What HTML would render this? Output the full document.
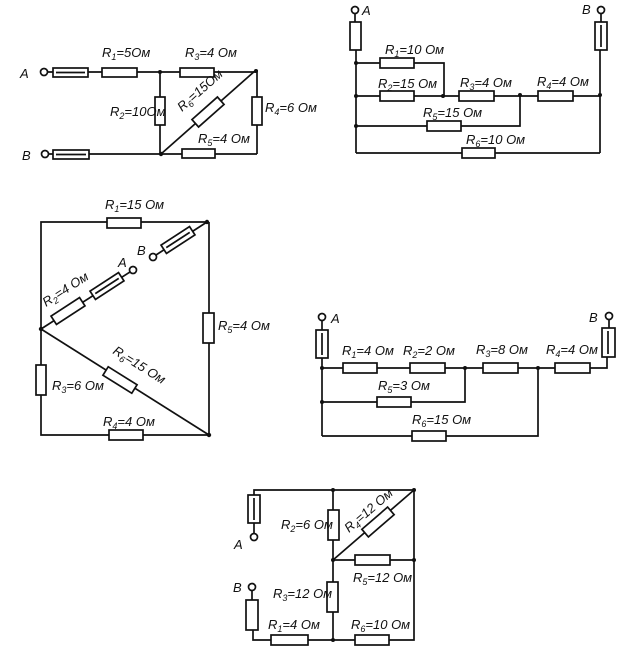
<!DOCTYPE html>
<html><head><meta charset="utf-8"><style>
html,body{margin:0;padding:0;background:#fff}
svg{display:block}
text{font-family:"Liberation Sans",sans-serif;font-style:italic;font-size:13px;fill:#111}
.s{font-size:9px}
</style></head><body>
<svg width="634" height="672" viewBox="0 0 634 672" xmlns="http://www.w3.org/2000/svg">
<g stroke="#111" stroke-width="1.7" fill="none">
<!-- Diagram 1 -->
<line x1="48" y1="72" x2="256" y2="72"/>
<line x1="48" y1="154" x2="257" y2="154"/>
<line x1="160" y1="72" x2="160" y2="154"/>
<line x1="257" y1="70" x2="257" y2="154"/>
<line x1="161" y1="154" x2="256" y2="70"/>
<circle cx="44" cy="72" r="3.5" fill="#fff"/>
<circle cx="45" cy="154" r="3.5" fill="#fff"/>
<rect x="53" y="68" width="35" height="9" fill="#fff"/><line x1="56" y1="72.5" x2="85" y2="72.5"/>
<rect x="102" y="68" width="35" height="9" fill="#fff"/>
<rect x="180" y="68" width="34" height="9" fill="#fff"/>
<rect x="53" y="150" width="36" height="9" fill="#fff"/><line x1="56" y1="154.5" x2="86" y2="154.5"/>
<rect x="182" y="149" width="33" height="9" fill="#fff"/>
<rect x="155" y="97" width="10" height="28" fill="#fff"/>
<rect x="252" y="97" width="10" height="28" fill="#fff"/>
<rect x="191" y="107" width="34" height="10" fill="#fff" transform="rotate(-41.5 208 112)"/>
<!-- Diagram 2 -->
<line x1="355" y1="14" x2="355" y2="22"/>
<line x1="601" y1="14" x2="601" y2="22"/>
<line x1="356" y1="50" x2="356" y2="153"/>
<line x1="600" y1="50" x2="600" y2="153"/>
<polyline points="356,63 444,63 444,96"/>
<line x1="356" y1="96" x2="600" y2="96"/>
<polyline points="356,126 520,126 520,95"/>
<line x1="356" y1="153" x2="600" y2="153"/>
<circle cx="355" cy="10" r="3.5" fill="#fff"/>
<circle cx="601" cy="10" r="3.5" fill="#fff"/>
<rect x="350" y="22" width="11" height="28" fill="#fff"/>
<rect x="595" y="22" width="12" height="28" fill="#fff"/><line x1="601" y1="25" x2="601" y2="47"/>
<rect x="380" y="58" width="34" height="10" fill="#fff"/>
<rect x="380" y="91" width="34" height="10" fill="#fff"/>
<rect x="459" y="91" width="35" height="10" fill="#fff"/>
<rect x="538" y="91" width="35" height="10" fill="#fff"/>
<rect x="427" y="121" width="34" height="10" fill="#fff"/>
<rect x="462" y="148" width="33" height="10" fill="#fff"/>
<!-- Diagram 3 -->
<polyline points="207,222 41,222 41,435 209,435 209,222"/>
<line x1="41" y1="329" x2="209" y2="435"/>
<line x1="207" y1="222" x2="156" y2="255"/>
<line x1="41" y1="329" x2="130" y2="272"/>
<circle cx="153" cy="257" r="3.5" fill="#fff"/>
<circle cx="133" cy="270" r="3.5" fill="#fff"/>
<rect x="107" y="218" width="34" height="10" fill="#fff"/>
<rect x="109" y="430" width="34" height="10" fill="#fff"/>
<rect x="36" y="365" width="10" height="30" fill="#fff"/>
<rect x="203" y="313" width="11" height="30" fill="#fff"/>
<rect x="161" y="235" width="34" height="10" fill="#fff" transform="rotate(-33 178 240)"/>
<line x1="164" y1="240" x2="192" y2="240" transform="rotate(-33 178 240)"/>
<rect x="51" y="306" width="34" height="10" fill="#fff" transform="rotate(-33 68 311)"/>
<rect x="90" y="281" width="34" height="10" fill="#fff" transform="rotate(-33 107 286)"/>
<line x1="93" y1="286" x2="121" y2="286" transform="rotate(-33 107 286)"/>
<rect x="103" y="375" width="34" height="10" fill="#fff" transform="rotate(32 120 380)"/>
<!-- Diagram 4 -->
<line x1="322" y1="321" x2="322" y2="330"/>
<line x1="322" y1="358" x2="322" y2="436"/>
<polyline points="322,368 607,368 607,357"/>
<line x1="609" y1="320" x2="609" y2="328"/>
<polyline points="322,402 465,402 465,368"/>
<polyline points="322,436 538,436 538,368"/>
<circle cx="322" cy="317" r="3.5" fill="#fff"/>
<circle cx="609" cy="316" r="3.5" fill="#fff"/>
<rect x="316" y="330" width="12" height="28" fill="#fff"/><line x1="322" y1="333" x2="322" y2="355"/>
<rect x="602" y="328" width="13" height="29" fill="#fff"/><line x1="608" y1="331" x2="608" y2="354"/>
<rect x="343" y="363" width="34" height="10" fill="#fff"/>
<rect x="410" y="363" width="35" height="10" fill="#fff"/>
<rect x="483" y="363" width="35" height="10" fill="#fff"/>
<rect x="555" y="363" width="35" height="10" fill="#fff"/>
<rect x="377" y="397" width="34" height="10" fill="#fff"/>
<rect x="412" y="431" width="34" height="10" fill="#fff"/>
<!-- Diagram 5 -->
<polyline points="254,495 254,490 414,490 414,640 253,640 253,630"/>
<line x1="333" y1="490" x2="333" y2="640"/>
<line x1="333" y1="560" x2="414" y2="560"/>
<line x1="333" y1="560" x2="414" y2="490"/>
<line x1="254" y1="523" x2="254" y2="533"/>
<line x1="252" y1="591" x2="252" y2="600"/>
<circle cx="254" cy="537" r="3.5" fill="#fff"/>
<circle cx="252" cy="587" r="3.5" fill="#fff"/>
<rect x="248" y="495" width="12" height="28" fill="#fff"/><line x1="254" y1="498" x2="254" y2="520"/>
<rect x="246" y="600" width="12" height="30" fill="#fff"/>
<rect x="328" y="510" width="11" height="30" fill="#fff"/>
<rect x="327" y="582" width="11" height="30" fill="#fff"/>
<rect x="355" y="555" width="35" height="10" fill="#fff"/>
<rect x="271" y="635" width="37" height="10" fill="#fff"/>
<rect x="355" y="635" width="34" height="10" fill="#fff"/>
<rect x="361" y="517" width="34" height="10" fill="#fff" transform="rotate(-40.8 378 522)"/>
</g>
<g fill="#111">
<circle cx="160" cy="72" r="2"/><circle cx="256" cy="71" r="2"/><circle cx="161" cy="154" r="2.2"/>
<circle cx="356" cy="63" r="2"/><circle cx="356" cy="96" r="2"/><circle cx="356" cy="126" r="2"/><circle cx="443" cy="96" r="2"/><circle cx="520" cy="95" r="2"/><circle cx="600" cy="95" r="2"/>
<circle cx="207" cy="222" r="2.2"/><circle cx="41" cy="329" r="2.2"/><circle cx="209" cy="435" r="2.2"/>
<circle cx="322" cy="368" r="2"/><circle cx="322" cy="402" r="2"/><circle cx="465" cy="368" r="2"/><circle cx="538" cy="368" r="2"/>
<circle cx="333" cy="490" r="2"/><circle cx="414" cy="490" r="2"/><circle cx="333" cy="560" r="2"/><circle cx="414" cy="560" r="2"/><circle cx="333" cy="640" r="2"/>
</g>
<!-- Labels D1 -->
<text x="20" y="78">A</text><text x="22" y="160">B</text>
<text x="102" y="57">R<tspan class="s" dy="3">1</tspan><tspan dy="-3">=5Ом</tspan></text>
<text x="185" y="57">R<tspan class="s" dy="3">3</tspan><tspan dy="-3">=4 Ом</tspan></text>
<text x="110" y="116">R<tspan class="s" dy="3">2</tspan><tspan dy="-3">=10Ом</tspan></text>
<text x="265" y="112">R<tspan class="s" dy="3">4</tspan><tspan dy="-3">=6 Ом</tspan></text>
<text x="198" y="143">R<tspan class="s" dy="3">5</tspan><tspan dy="-3">=4 Ом</tspan></text>
<text x="0" y="0" transform="translate(182 112) rotate(-41.5)">R<tspan class="s" dy="3">6</tspan><tspan dy="-3">=15Ом</tspan></text>
<!-- D2 -->
<text x="362" y="15">A</text><text x="582" y="14">B</text>
<text x="385" y="54">R<tspan class="s" dy="3">1</tspan><tspan dy="-3">=10 Ом</tspan></text>
<text x="378" y="88">R<tspan class="s" dy="3">2</tspan><tspan dy="-3">=15 Ом</tspan></text>
<text x="460" y="87">R<tspan class="s" dy="3">3</tspan><tspan dy="-3">=4 Ом</tspan></text>
<text x="537" y="86">R<tspan class="s" dy="3">4</tspan><tspan dy="-3">=4 Ом</tspan></text>
<text x="423" y="117">R<tspan class="s" dy="3">5</tspan><tspan dy="-3">=15 Ом</tspan></text>
<text x="466" y="144">R<tspan class="s" dy="3">6</tspan><tspan dy="-3">=10 Ом</tspan></text>
<!-- D3 -->
<text x="105" y="209">R<tspan class="s" dy="3">1</tspan><tspan dy="-3">=15 Ом</tspan></text>
<text x="137" y="255">B</text><text x="118" y="267">A</text>
<text x="0" y="0" transform="translate(46 307) rotate(-33)">R<tspan class="s" dy="3">2</tspan><tspan dy="-3">=4 Ом</tspan></text>
<text x="218" y="330">R<tspan class="s" dy="3">5</tspan><tspan dy="-3">=4 Ом</tspan></text>
<text x="52" y="390">R<tspan class="s" dy="3">3</tspan><tspan dy="-3">=6 Ом</tspan></text>
<text x="0" y="0" transform="translate(112 353) rotate(32)">R<tspan class="s" dy="3">6</tspan><tspan dy="-3">=15 Ом</tspan></text>
<text x="103" y="426">R<tspan class="s" dy="3">4</tspan><tspan dy="-3">=4 Ом</tspan></text>
<!-- D4 -->
<text x="331" y="323">A</text><text x="589" y="322">B</text>
<text x="342" y="355">R<tspan class="s" dy="3">1</tspan><tspan dy="-3">=4 Ом</tspan></text>
<text x="403" y="355">R<tspan class="s" dy="3">2</tspan><tspan dy="-3">=2 Ом</tspan></text>
<text x="476" y="354">R<tspan class="s" dy="3">3</tspan><tspan dy="-3">=8 Ом</tspan></text>
<text x="546" y="354">R<tspan class="s" dy="3">4</tspan><tspan dy="-3">=4 Ом</tspan></text>
<text x="378" y="390">R<tspan class="s" dy="3">5</tspan><tspan dy="-3">=3 Ом</tspan></text>
<text x="412" y="424">R<tspan class="s" dy="3">6</tspan><tspan dy="-3">=15 Ом</tspan></text>
<!-- D5 -->
<text x="234" y="549">A</text><text x="233" y="592">B</text>
<text x="281" y="529">R<tspan class="s" dy="3">2</tspan><tspan dy="-3">=6 Ом</tspan></text>
<text x="0" y="0" transform="translate(349 533) rotate(-40.8)">R<tspan class="s" dy="3">4</tspan><tspan dy="-3">=12 Ом</tspan></text>
<text x="353" y="582">R<tspan class="s" dy="3">5</tspan><tspan dy="-3">=12 Ом</tspan></text>
<text x="273" y="598">R<tspan class="s" dy="3">3</tspan><tspan dy="-3">=12 Ом</tspan></text>
<text x="268" y="629">R<tspan class="s" dy="3">1</tspan><tspan dy="-3">=4 Ом</tspan></text>
<text x="351" y="629">R<tspan class="s" dy="3">6</tspan><tspan dy="-3">=10 Ом</tspan></text>
</svg>
</body></html>
